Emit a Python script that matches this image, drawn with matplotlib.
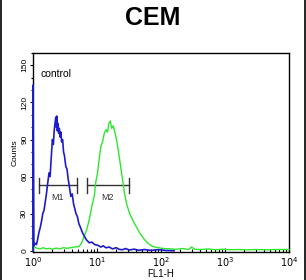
import numpy as np
import matplotlib
matplotlib.use("Agg")
import matplotlib.pyplot as plt
from matplotlib.lines import Line2D

# control (blue) histogram
blue_x = [1.0, 1.0, 1.03, 1.08, 1.13, 1.18, 1.24, 1.3, 1.36, 1.42, 1.49, 1.56, 1.63, 1.7,
          1.78, 1.85, 1.92, 2.01, 2.08, 2.15, 2.22, 2.27, 2.31, 2.35, 2.4, 2.46, 2.52,
          2.58, 2.65, 2.72, 2.8, 2.9, 3.0, 3.1, 3.26, 3.4, 3.55, 3.7, 3.9, 4.1, 4.3,
          4.5, 4.7, 4.95, 5.2, 5.5, 5.93, 6.3, 6.8, 7.56, 8.3, 9.2, 10.2, 11.5, 12.5,
          13.8, 15.5, 17.5, 20.0, 22.0, 24.9, 28.0, 32.0, 38.0, 45.0, 55.0, 70.0, 90.0,
          120.0, 160.0]
blue_y = [0, 134, 4, 6, 5, 9, 15, 19, 24, 30, 33, 40, 47, 55,
          63, 60, 74, 90, 86, 98, 104, 108, 100, 109, 97, 103, 95,
          99, 92, 96, 88, 90, 80, 77, 68, 66, 58, 52, 44, 46, 38,
          34, 30, 27.5, 22, 19, 14.6, 12, 9, 6.5, 7, 5, 4.5, 3, 4,
          2.4, 3, 1.5, 2.5, 1.2, 0.8, 1.8, 0.6, 1.3, 0.4, 1.0, 0.3, 0.9,
          0.2, 0.0]

# sample (green) histogram
green_x = [1.0, 1.0, 1.02, 1.06, 1.15, 1.3, 1.45, 1.6, 1.8, 2.0, 2.3, 2.6, 3.0, 3.4,
           3.9, 4.4, 4.9, 5.27, 5.7, 6.31, 6.9, 7.56, 8.3, 9.05, 9.6, 10.2, 10.8, 11.5,
           12.2, 13.0, 13.8, 14.6, 15.3, 16.1, 17.0, 17.8, 18.6, 19.8, 21.0, 22.3,
           23.8, 25.2, 26.8, 29.0, 32.0, 36.0, 40.8, 47.0, 55.1, 63.0, 73.6, 90.0,
           110.0, 136.0, 170.0, 220.0, 270.0, 300.0, 340.0, 420.0, 550.0, 700.0,
           900.0, 1200.0, 1600.0, 2200.0, 3000.0, 4500.0, 6500.0, 10000.0]
green_y = [0, 11, 6, 3, 2, 1.5, 2.5, 1.5, 2, 1.2, 2.2, 1.5, 2.5, 2.0,
           2.5, 3, 3.2, 3.5, 6, 11.6, 17, 25, 36, 44, 56, 63, 74, 84.6,
           88, 95, 98, 96, 103, 105, 99, 101, 98, 92, 84.6, 76,
           65.7, 57, 47, 38, 30.8, 25, 19.7, 14, 9, 6, 3.5, 2.5,
           1.8, 1.6, 1.2, 1.8, 1.0, 3.0, 1.2, 1.0, 1.5, 0.8,
           1.2, 0.8, 1.0, 0.7, 1.0, 0.8, 1.0, 1.0]

# gates
gate_names = ["M1", "M2"]
gate_lo = [1.24, 6.86]
gate_hi = [4.8, 32.0]
gate_level = 53

y_ticks = [0, 30, 60, 90, 120, 150]
x_ticks = [1, 10, 100, 1000, 10000]
x_tick_labels = ["$10^0$", "$10^1$", "$10^2$", "$10^3$", "$10^4$"]

plt.rcParams["font.family"] = ["Liberation Sans", "DejaVu Sans"]

fig = plt.figure(figsize=(3.06, 2.80), dpi=100)
ax = fig.add_axes([33 / 306, 1 - 252 / 280, 256 / 306, 199 / 280])

ax.plot(blue_x, blue_y, color="#1c1cc8", lw=1.2, clip_on=False, zorder=3)
ax.plot(green_x, green_y, color="#2ee82e", lw=1.0, clip_on=False, zorder=2.5)

for name, lo, hi in zip(gate_names, gate_lo, gate_hi):
    ax.plot([lo, hi], [gate_level, gate_level], color="#333333", lw=1.0)
    ax.plot([lo, lo], [gate_level - 6, gate_level + 6], color="#333333", lw=1.0)
    ax.plot([hi, hi], [gate_level - 6, gate_level + 6], color="#333333", lw=1.0)
    xm = np.sqrt(lo * hi)
    ax.text(xm, gate_level - 10, name, fontsize=6.5, ha="center", va="center",
            color="#333333")

ax.text(0.03, 0.895, "control", transform=ax.transAxes, fontsize=7.5,
        ha="left", va="center")

ax.set_xscale("log")
ax.set_xlim(1, 10000)
ax.set_ylim(-1, 160)
ax.set_xticks(x_ticks)
ax.set_xticklabels(x_tick_labels, fontsize=7)
ax.set_yticks(y_ticks)
ax.set_yticklabels([str(t) for t in y_ticks], fontsize=6, rotation=90,
                   va="center")
ax.yaxis.set_minor_locator(matplotlib.ticker.MultipleLocator(10))
ax.tick_params(axis="x", which="both", direction="in", length=3, width=0.8, pad=2)
ax.tick_params(axis="x", which="minor", length=2)
ax.tick_params(axis="y", which="both", direction="out", length=2.5, width=0.8, pad=1)
ax.tick_params(axis="y", which="minor", length=1.5)
ax.set_xlabel("FL1-H", fontsize=7, labelpad=0)
ax.set_ylabel("Counts", fontsize=6, labelpad=2)
for s in ax.spines.values():
    s.set_linewidth(1.0)
    s.set_zorder(2)

fig.text(0.5, 0.935, "CEM", fontsize=18, fontweight="bold", ha="center",
         va="center")

# thin frame on the left and right edges of the picture
fig.add_artist(Line2D([0.002, 0.002], [0, 1], transform=fig.transFigure,
                      color="black", lw=1.2))
fig.add_artist(Line2D([0.997, 0.997], [0, 1], transform=fig.transFigure,
                      color="black", lw=1.2))

fig.savefig("out.png", dpi=100)
